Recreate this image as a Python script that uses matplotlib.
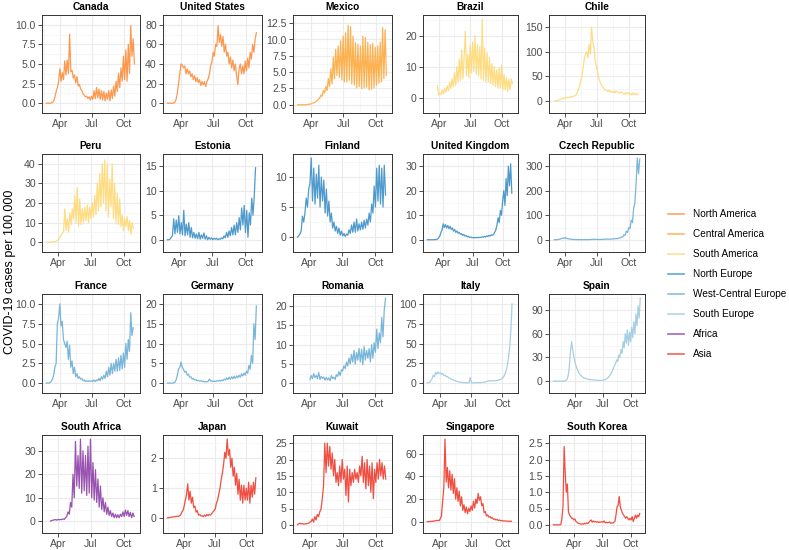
import numpy as np
import pandas as pd
import matplotlib
matplotlib.use("Agg")
import matplotlib.pyplot as plt
import matplotlib.dates as mdates
from matplotlib.lines import Line2D

plt.rcParams['font.family'] = ['Liberation Sans', 'DejaVu Sans']

regions = ["North America", "Central America", "South America", "North Europe",
           "West-Central Europe", "South Europe", "Africa", "Asia"]
region_colors = ["#FD8D3C", "#FDAA3F", "#FED976", "#3B8FC8",
                 "#6BAED6", "#9ECAE1", "#8E3FA8", "#EF3B2C"]

countries = ["Canada", "United States", "Mexico", "Brazil", "Chile",
             "Peru", "Estonia", "Finland", "United Kingdom", "Czech Republic",
             "France", "Germany", "Romania", "Italy", "Spain",
             "South Africa", "Japan", "Kuwait", "Singapore", "South Korea"]
country_region = [0, 0, 1, 2, 2,
                  2, 3, 3, 3, 4,
                  4, 4, 4, 5, 5,
                  6, 7, 7, 7, 7]
start_dates = ["2020-02-22", "2020-02-22", "2020-02-22", "2020-03-28", "2020-03-03",
               "2020-03-01", "2020-02-27", "2020-02-27", "2020-02-12", "2020-03-01",
               "2020-02-22", "2020-02-22", "2020-04-02", "2020-02-24", "2020-01-22",
               "2020-03-10", "2020-02-13", "2020-02-24", "2020-02-22", "2020-01-24"]

y_breaks = [[0, 2.5, 5, 7.5, 10], [0, 20, 40, 60, 80], [0, 2.5, 5, 7.5, 10, 12.5],
            [0, 10, 20], [0, 50, 100, 150],
            [0, 10, 20, 30, 40], [0, 5, 10, 15], [0, 5, 10], [0, 10, 20, 30],
            [0, 100, 200, 300],
            [0, 2.5, 5, 7.5, 10], [0, 5, 10, 15, 20], [0, 5, 10, 15, 20],
            [0, 25, 50, 75, 100], [0, 30, 60, 90],
            [0, 10, 20, 30], [0, 1, 2], [0, 5, 10, 15, 20, 25], [0, 20, 40, 60],
            [0, 0.5, 1, 1.5, 2, 2.5]]
y_decimals = [1, 0, 1, 0, 0, 0, 0, 0, 0, 0, 1, 0, 0, 0, 0, 0, 0, 0, 0, 1]

# cases per 100,000, one reading every half week from the start date
canada = [0, 0, 0, 0, 0.05, 0.1, 0.3, 0.8, 1.5, 2.0, 2.8, 4.4, 2.8, 3.9, 3.0, 5.4,
          3.6, 5.5, 3.8, 8.8, 4.0, 4.2, 3.2, 3.6, 2.6, 3.4, 2.2, 2.4, 1.8, 1.6, 1.2,
          1.0, 0.8, 0.9, 0.6, 0.8, 0.4, 0.9, 0.5, 1.6, 0.6, 2.0, 0.7, 1.8, 0.5, 1.6,
          0.4, 1.5, 0.3, 1.3, 0.5, 1.6, 0.3, 1.7, 0.6, 2.2, 0.9, 2.8, 1.5, 3.8, 2.0,
          4.5, 2.8, 6.0, 3.0, 6.8, 2.8, 7.5, 3.8, 9.9, 6.0, 8.2, 5.0]
united_states = [0, 0, 0, 0, 0, 0.2, 1, 4, 10, 20, 30, 40, 39, 36, 38, 30, 35, 30, 33,
                 27, 30, 24, 28, 22, 26, 21, 24, 18, 22, 19, 22, 17, 22, 25, 30, 38,
                 42, 52, 48, 60, 58, 79, 62, 70, 58, 68, 52, 60, 48, 52, 40, 47, 36,
                 44, 33, 40, 28, 19, 35, 40, 30, 38, 30, 43, 33, 46, 36, 52, 45, 60,
                 52, 65, 72]
mexico = [0, 0, 0, 0, 0, 0, 0.01, 0.02, 0.05, 0.08, 0.1, 0.15, 0.2, 0.3, 0.35, 0.5,
          0.6, 0.9, 1.0, 1.5, 1.3, 2.2, 1.8, 2.8, 2.2, 4.0, 2.8, 5.5, 3.2, 7.3, 4.0,
          8.5, 4.5, 9.0, 4.2, 9.8, 3.8, 10.5, 3.5, 11.0, 3.5, 12.2, 3.8, 12.0, 3.2,
          10.5, 3.0, 9.5, 2.6, 9.3, 2.8, 9.0, 2.5, 10.5, 2.6, 10.3, 2.7, 9.6, 2.3,
          9.2, 2.4, 9.4, 2.6, 8.8, 3.0, 9.0, 3.3, 9.6, 3.5, 11.8, 4.0, 11.5, 4.5]
brazil = [3.8, 0.8, 1.5, 1.0, 2.5, 1.2, 3.0, 1.8, 3.8, 2.2, 5.0, 3.0, 6.0, 3.5, 8.0,
          4.0, 10.0, 5.0, 12.5, 5.5, 15.5, 6.0, 13.0, 21.5, 7.0, 14.0, 6.5, 17.0,
          8.0, 18.0, 8.5, 20.0, 7.5, 17.0, 7.0, 16.5, 6.0, 25.5, 5.5, 16.0, 5.0,
          14.5, 5.0, 13.0, 4.5, 11.0, 4.0, 10.0, 3.5, 9.0, 3.0, 9.5, 3.0, 10.5, 2.5,
          7.5, 2.5, 6.5, 2.0, 6.0, 2.5, 6.0, 4.5]
chile = [0, 0.1, 0.5, 1.0, 2.0, 3.0, 4.0, 5.5, 6.0, 5.0, 7.0, 6.0, 8.0, 7.0, 9.0,
         8.5, 10.0, 11.0, 15.0, 22.0, 28.0, 40.0, 48.0, 65.0, 85.0, 95.0, 100.0,
         88.0, 115.0, 95.0, 150.0, 120.0, 110.0, 80.0, 70.0, 55.0, 45.0, 38.0, 32.0,
         28.0, 25.0, 22.0, 22.0, 19.0, 21.0, 18.0, 20.0, 17.0, 19.0, 16.0, 20.0,
         18.0, 17.0, 15.0, 18.0, 16.0, 15.0, 13.0, 17.0, 14.0, 16.0, 13.0, 15.0,
         12.0, 16.0, 13.0, 15.0, 12.0, 14.0]
peru = [0, 0, 0, 0, 0.1, 0.2, 0.3, 0.5, 0.8, 1.5, 2.5, 3.5, 4.5, 5.5, 17.0, 6.0,
        12.0, 5.0, 15.0, 9.0, 17.0, 12.0, 24.0, 10.0, 28.0, 8.0, 22.0, 9.0, 17.0,
        10.0, 18.0, 11.0, 19.0, 10.0, 18.0, 12.0, 20.0, 13.0, 24.0, 14.0, 30.0, 16.0,
        35.0, 18.0, 40.0, 20.0, 42.0, 16.0, 40.0, 13.0, 32.0, 18.0, 40.0, 12.0, 30.0,
        10.0, 25.0, 9.0, 22.0, 8.0, 14.0, 6.0, 12.0, 8.0, 13.0, 6.0, 11.0, 4.0, 10.0,
        7.0]
estonia = [0, 0, 0.1, 0.5, 0.8, 4.3, 1.2, 4.0, 1.5, 4.9, 1.2, 3.5, 1.0, 6.0, 0.8,
           3.2, 1.0, 3.5, 0.5, 2.5, 0.4, 1.5, 0.3, 1.2, 0.2, 1.5, 0.1, 1.0, 0.3, 1.4,
           0.1, 0.8, 0.0, 0.5, 0.1, 0.4, 0.0, 0.3, 0.1, 0.3, 0.0, 0.2, 0.1, 0.4, 0.2,
           0.8, 0.4, 1.5, 0.5, 1.8, 0.8, 2.5, 1.0, 3.0, 1.0, 3.5, 1.5, 4.5, 2.0, 6.5,
           3.0, 7.0, 1.5, 6.0, 0.5, 5.5, 3.0, 8.5, 5.0, 9.0, 14.7]
finland = [0, 0.2, 0.5, 1.0, 3.5, 2.5, 4.0, 6.5, 5.0, 8.0, 9.0, 13.2, 6.0, 11.5, 5.5,
           10.5, 6.5, 12.0, 5.0, 10.0, 6.0, 9.5, 4.0, 8.0, 3.5, 6.0, 2.5, 4.0, 1.5,
           2.5, 1.0, 1.8, 0.6, 1.5, 0.3, 1.0, 0.2, 0.6, 0.1, 0.5, 0.3, 1.2, 0.6, 2.0,
           0.8, 2.5, 0.8, 3.0, 1.0, 2.2, 1.2, 2.5, 1.3, 2.8, 1.5, 3.0, 2.0, 4.0, 2.5,
           5.5, 4.0, 8.5, 5.0, 11.5, 6.0, 12.0, 5.5, 11.5, 5.0, 12.0, 7.0]
united_kingdom = [0, 0, 0, 0, 0, 0, 0.02, 0.05, 0.1, 0.3, 0.8, 1.5, 3.0, 4.0, 6.5,
                  5.0, 6.2, 4.8, 5.8, 4.5, 5.5, 4.2, 4.8, 3.5, 4.2, 3.0, 3.6, 2.7,
                  3.0, 2.2, 2.5, 1.8, 2.2, 1.5, 1.7, 1.2, 1.4, 1.0, 1.1, 0.9, 0.9,
                  0.8, 0.9, 0.8, 1.0, 0.8, 1.0, 0.9, 1.2, 1.0, 1.4, 1.1, 1.6, 1.3,
                  1.8, 1.5, 2.0, 1.8, 2.2, 3.0, 4.0, 6.0, 9.0, 7.0, 12.0, 10.0, 16.0,
                  20.0, 14.0, 25.0, 18.0, 30.0, 22.0, 31.0, 19.0]
czech_republic = [0, 0.1, 0.3, 0.8, 2.0, 3.0, 5.0, 7.0, 6.0, 9.0, 5.0, 5.0, 3.5, 3.0,
                  2.0, 1.5, 1.0, 1.0, 0.8, 0.6, 0.6, 0.5, 0.5, 0.4, 0.6, 0.8, 0.5,
                  0.7, 0.6, 1.0, 1.0, 1.5, 2.0, 2.5, 1.5, 1.2, 1.3, 1.0, 1.5, 1.3,
                  2.0, 2.5, 2.2, 3.0, 2.5, 2.3, 2.5, 3.0, 3.5, 4.0, 4.5, 5.0, 5.0,
                  8.0, 7.0, 12.0, 11.0, 20.0, 18.0, 35.0, 30.0, 50.0, 45.0, 80.0,
                  70.0, 130.0, 150.0, 230.0, 334.0, 270.0, 330.0]
france = [0, 0, 0.01, 0.05, 0.2, 0.5, 1.0, 2.0, 2.5, 7.5, 8.2, 10.0, 7.2, 7.8, 5.5,
          5.0, 4.5, 5.3, 3.0, 4.8, 2.0, 2.8, 1.2, 2.0, 0.8, 1.2, 0.6, 0.8, 0.5, 0.6,
          0.3, 0.4, 0.2, 0.3, 0.2, 0.3, 0.2, 0.3, 0.2, 0.4, 0.2, 0.4, 0.3, 0.6, 0.3,
          0.8, 0.5, 1.0, 0.6, 1.5, 0.8, 2.0, 1.0, 2.5, 1.2, 2.5, 1.5, 3.0, 1.5, 3.2,
          1.6, 3.5, 1.8, 3.8, 2.0, 5.0, 3.0, 5.5, 4.0, 8.9, 6.0, 7.0]
germany = [0, 0, 0, 0, 0.01, 0.05, 0.2, 0.8, 2.0, 3.5, 4.0, 5.3, 4.0, 3.5, 2.8, 3.0,
           2.0, 2.2, 1.5, 1.6, 1.0, 1.2, 0.8, 0.9, 0.6, 0.7, 0.5, 0.6, 0.4, 0.5, 0.3,
           0.4, 0.3, 0.5, 1.0, 0.5, 0.6, 0.4, 0.5, 0.4, 0.6, 0.5, 0.7, 0.5, 0.8, 0.6,
           1.0, 0.8, 1.3, 0.9, 1.5, 1.0, 1.6, 1.1, 1.7, 1.2, 1.8, 1.4, 2.0, 1.5, 2.3,
           1.8, 2.5, 2.0, 3.0, 2.5, 4.5, 3.5, 7.0, 5.0, 15.0, 11.0, 19.5]
romania = [1.0, 2.0, 1.2, 2.5, 1.5, 2.0, 1.2, 2.8, 1.0, 1.8, 1.3, 1.6, 0.8, 1.5, 0.9,
           1.4, 0.7, 2.0, 1.2, 1.6, 1.0, 2.2, 1.8, 3.0, 2.0, 3.5, 3.2, 4.5, 3.8, 5.5,
           4.5, 6.5, 5.0, 7.5, 5.5, 8.5, 5.0, 8.0, 6.0, 9.0, 5.5, 8.8, 4.8, 9.5, 6.0,
           8.5, 6.5, 9.0, 5.5, 10.0, 6.5, 10.5, 8.0, 14.0, 9.0, 13.0, 10.5, 17.0,
           12.0, 19.0, 22.0]
italy = [0.2, 0.5, 1.0, 3.0, 5.5, 10.0, 8.0, 13.5, 11.0, 14.0, 12.0, 13.0, 11.0,
         12.0, 9.5, 10.0, 8.0, 8.5, 6.5, 6.5, 4.5, 5.0, 3.5, 3.5, 2.5, 2.2, 1.5, 1.5,
         1.0, 0.8, 0.6, 0.6, 0.4, 0.4, 0.3, 0.3, 7.0, 0.3, 0.3, 0.4, 0.4, 0.5, 0.5,
         0.6, 0.6, 0.7, 0.8, 1.0, 1.2, 1.5, 2.0, 2.5, 3.0, 2.8, 3.0, 3.0, 3.2, 2.8,
         3.5, 3.3, 4.0, 4.5, 5.0, 6.5, 8.0, 11.0, 15.0, 22.0, 32.0, 45.0, 65.0, 100.0]
spain = [0, 0, 0, 0, 0, 0, 0, 0, 0, 0, 0.1, 0.3, 1.0, 3.0, 8.0, 20.0, 38.0, 50.0,
         40.0, 32.0, 25.0, 20.0, 16.0, 13.0, 10.0, 8.0, 7.0, 5.5, 4.5, 4.0, 3.5, 3.0,
         2.5, 2.2, 2.0, 2.0, 1.8, 1.5, 1.5, 1.2, 1.3, 1.0, 1.2, 1.0, 1.1, 1.0, 1.3,
         1.5, 2.0, 2.5, 3.5, 4.5, 6.0, 8.0, 10.0, 13.0, 16.0, 20.0, 22.0, 27.0, 25.0,
         33.0, 30.0, 40.0, 35.0, 50.0, 42.0, 60.0, 48.0, 65.0, 45.0, 62.0, 50.0,
         68.0, 55.0, 75.0, 60.0, 85.0, 70.0, 95.0, 80.0, 105.0]
south_africa = [0.1, 0.3, 0.5, 0.6, 0.7, 0.5, 0.8, 0.6, 0.8, 0.7, 1.0, 0.8, 1.5, 2.0,
                4.0, 3.0, 8.0, 6.0, 20.0, 10.0, 34.0, 15.0, 28.0, 14.0, 35.0, 12.0,
                30.0, 13.0, 28.0, 11.0, 32.0, 12.0, 35.0, 10.0, 25.0, 9.0, 22.0, 8.0,
                18.0, 6.0, 15.0, 5.0, 10.0, 4.0, 8.0, 3.0, 6.0, 2.5, 4.5, 2.0, 3.5,
                1.5, 3.0, 1.5, 2.8, 1.5, 3.0, 2.0, 4.0, 2.0, 4.8, 2.5, 4.5, 2.0, 3.8,
                1.5, 3.5, 2.0]
japan = [0.01, 0.01, 0.02, 0.03, 0.03, 0.04, 0.05, 0.05, 0.06, 0.05, 0.08, 0.1, 0.2,
         0.25, 0.4, 0.6, 0.8, 1.15, 0.6, 0.9, 0.5, 0.7, 0.35, 0.4, 0.2, 0.25, 0.1,
         0.12, 0.07, 0.08, 0.05, 0.1, 0.06, 0.12, 0.08, 0.12, 0.1, 0.15, 0.2, 0.25,
         0.3, 0.5, 0.6, 0.8, 1.0, 1.3, 1.5, 1.8, 2.2, 2.0, 2.65, 2.1, 2.3, 1.7, 2.0,
         1.4, 1.7, 1.1, 1.5, 0.8, 1.3, 0.6, 1.1, 0.5, 1.1, 0.6, 1.0, 0.6, 1.2, 0.5,
         1.1, 0.7, 1.2, 0.8, 1.35]
kuwait = [0.1, 0.3, 0.5, 0.3, 0.4, 0.2, 0.3, 0.3, 0.4, 0.5, 0.8, 1.0, 1.8, 0.8, 2.5,
          1.5, 3.2, 2.5, 4.0, 5.0, 8.0, 12.0, 25.0, 16.0, 25.0, 18.0, 24.0, 17.0,
          22.0, 15.0, 20.0, 13.0, 16.0, 12.0, 18.0, 13.0, 20.0, 14.0, 17.0, 9.0, 18.0,
          7.0, 17.0, 12.0, 16.0, 13.0, 17.0, 14.0, 16.0, 13.0, 18.0, 15.0, 21.0, 13.0,
          19.0, 11.0, 20.0, 12.0, 18.0, 10.0, 19.0, 8.0, 17.0, 13.0, 19.0, 14.0, 20.0,
          15.0, 19.0, 14.0, 18.0, 14.0]
singapore = [0, 0.1, 0.2, 0.2, 0.3, 0.5, 0.6, 0.8, 1.0, 1.2, 1.0, 2.5, 5.0, 18.0,
             30.0, 73.0, 35.0, 48.0, 30.0, 45.0, 28.0, 42.0, 25.0, 38.0, 20.0, 30.0,
             18.0, 27.0, 14.0, 22.0, 10.0, 15.0, 8.0, 13.0, 7.0, 12.0, 9.0, 14.0,
             10.0, 18.0, 12.0, 20.0, 16.0, 25.0, 19.0, 22.0, 14.0, 16.0, 8.0, 9.0,
             5.0, 6.0, 4.0, 4.5, 3.0, 3.5, 2.0, 2.5, 1.5, 2.0, 1.0, 1.5, 0.8, 1.0,
             0.6, 0.8, 0.5, 0.6, 0.4, 0.5, 0.3, 0.4]
south_korea = [0, 0, 0, 0, 0, 0, 0, 0.01, 0.2, 0.6, 2.4, 1.6, 1.0, 1.25, 0.4, 0.3,
               0.25, 0.2, 0.2, 0.15, 0.18, 0.1, 0.08, 0.05, 0.04, 0.03, 0.02, 0.03,
               0.02, 0.05, 0.03, 0.06, 0.04, 0.08, 0.12, 0.15, 0.08, 0.12, 0.09, 0.1,
               0.08, 0.1, 0.07, 0.09, 0.08, 0.1, 0.08, 0.12, 0.06, 0.08, 0.06, 0.07,
               0.09, 0.05, 0.06, 0.05, 0.08, 0.1, 0.3, 0.55, 0.6, 0.87, 0.55, 0.45,
               0.35, 0.3, 0.25, 0.2, 0.25, 0.2, 0.15, 0.2, 0.15, 0.25, 0.1, 0.2, 0.3,
               0.2, 0.3, 0.25, 0.35]

series = [canada, united_states, mexico, brazil, chile,
          peru, estonia, finland, united_kingdom, czech_republic,
          france, germany, romania, italy, spain,
          south_africa, japan, kuwait, singapore, south_korea]

# panel boxes in pixels (figure 789 x 550)
W, H = 789, 550
col_px = [(42, 140), (163, 262), (293, 392), (423, 518), (549, 645)]
row_px = [(15, 113), (154, 252), (294, 393), (435, 533)]

fig = plt.figure(figsize=(W / 100, H / 100), dpi=100)

month_breaks = pd.to_datetime(["2020-04-01", "2020-07-01", "2020-10-01"])
month_minor = pd.to_datetime(["2020-02-15", "2020-05-16", "2020-08-16", "2020-11-16"])

for i, name in enumerate(countries):
    r, c = divmod(i, 5)
    x0, x1 = col_px[c]
    y0, y1 = row_px[r]
    ax = fig.add_axes([x0 / W, 1 - y1 / H, (x1 - x0) / W, (y1 - y0) / H])
    vals = np.array(series[i], dtype=float)
    dates = pd.date_range(start_dates[i], periods=len(vals), freq="84h")
    col = region_colors[country_region[i]]
    ax.plot(dates, vals, color=col, lw=0.9, alpha=0.9, zorder=3)

    dn = mdates.date2num(dates)
    span = dn[-1] - dn[0]
    ax.set_xlim(mdates.num2date(dn[0] - 0.05 * span), mdates.num2date(dn[-1] + 0.05 * span))
    ymin, ymax = vals.min(), vals.max()
    ax.set_ylim(ymin - 0.05 * (ymax - ymin), ymax + 0.05 * (ymax - ymin))

    yb = y_breaks[i]
    ax.set_yticks(yb)
    ax.set_yticklabels([f"{v:.{y_decimals[i]}f}" for v in yb])
    step = yb[1] - yb[0]
    ax.set_yticks([yb[0] - step / 2] + [v + step / 2 for v in yb], minor=True)
    ax.set_xticks(month_breaks)
    ax.set_xticklabels(["Apr", "Jul", "Oct"])
    ax.set_xticks(month_minor, minor=True)

    ax.grid(which="major", color="#EBEBEB", lw=0.8, zorder=0)
    ax.grid(which="minor", color="#F2F2F2", lw=0.45, zorder=0)
    ax.set_axisbelow(True)
    for s in ax.spines.values():
        s.set_color("#333333")
        s.set_linewidth(0.7)
    ax.tick_params(which="major", direction="out", length=3, width=0.6, color="#333333",
                   labelsize=7.6, labelcolor="#4D4D4D", pad=1.5)
    ax.tick_params(which="minor", length=0)
    ax.set_title(name, fontsize=7.3, fontweight="bold", pad=3.5)

fig.text(10 / W, 1 - 272 / H, "COVID-19 cases per 100,000", rotation=90,
         ha="center", va="center", fontsize=9)

handles = [Line2D([], [], color=cl, lw=1.2, alpha=0.8) for cl in region_colors]
fig.legend(handles, regions, loc="upper left", bbox_to_anchor=(668 / W, 1 - 209 / H),
           frameon=False, fontsize=7.2, handlelength=1.6, handletextpad=0.9,
           labelspacing=1.0, borderpad=0, borderaxespad=0)

fig.savefig("out.png", dpi=100)
